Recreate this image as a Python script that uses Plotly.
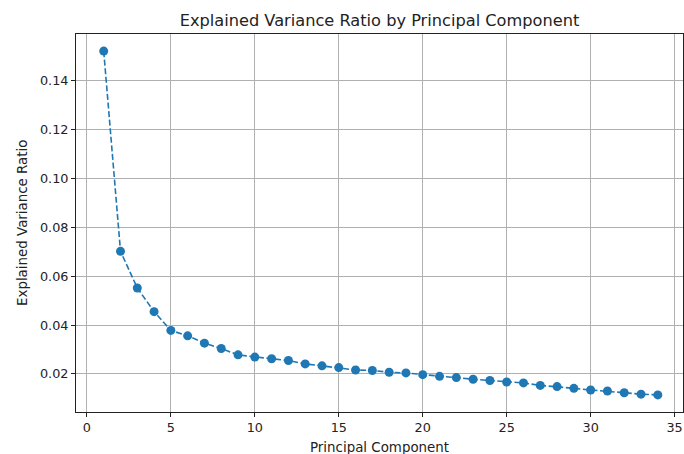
import plotly.graph_objects as go

components = list(range(1, 35))
explained_variance_ratio = [
    0.1522, 0.0702, 0.0552, 0.0455, 0.0378, 0.0356, 0.0326, 0.0304, 0.0278, 0.0269,
    0.0262, 0.0255, 0.0241, 0.0233, 0.0226, 0.0216, 0.0214, 0.0207, 0.0204, 0.0197,
    0.0190, 0.0185, 0.0178, 0.0173, 0.0167, 0.0163, 0.0153, 0.0148, 0.0141, 0.0134,
    0.0130, 0.0123, 0.0117, 0.0114,
]
x_ticks = [0, 5, 10, 15, 20, 25, 30, 35]
y_ticks = [0.02, 0.04, 0.06, 0.08, 0.10, 0.12, 0.14]
y_tick_labels = ["0.02", "0.04", "0.06", "0.08", "0.10", "0.12", "0.14"]

FONT = "DejaVu Sans"
BLUE = "#1f77b4"
W, H = 684, 454
L, R, T, B = 76, 1, 34, 42

fig = go.Figure()
fig.add_trace(go.Scatter(
    x=components, y=explained_variance_ratio,
    mode="lines+markers",
    line=dict(color=BLUE, width=1.6, dash="6px,2.6px"),
    marker=dict(color=BLUE, size=9, symbol="circle"),
    showlegend=False,
))

axis_common = dict(
    showgrid=True, gridcolor="#b0b0b0", gridwidth=0.8,
    showline=True, linecolor="#222222", linewidth=1, mirror=True,
    ticks="outside", ticklen=4, tickwidth=1, tickcolor="#222222",
    zeroline=False, automargin=False,
    tickfont=dict(family=FONT, size=12.8, color="#222222"),
)

fig.update_layout(
    width=W, height=H,
    margin=dict(l=L, r=R, t=T, b=B, autoexpand=False),
    paper_bgcolor="white", plot_bgcolor="white",
    font=dict(family=FONT, color="#222222"),
    title=dict(
        text="Explained Variance Ratio by Principal Component",
        font=dict(family=FONT, size=16.2, color="#222222"),
        x=(L + W - R) / 2 / W, xanchor="center",
        y=1 - 20 / H, yanchor="middle", yref="container",
        automargin=False,
    ),
    xaxis=dict(
        axis_common,
        range=[-0.65, 35.5],
        tickmode="array", tickvals=x_ticks,
    ),
    yaxis=dict(
        axis_common,
        range=[0.0044, 0.1592],
        tickmode="array", tickvals=y_ticks, ticktext=y_tick_labels,
    ),
    annotations=[
        dict(text="Principal Component", xref="paper", yref="paper",
             x=0.5, y=-(447 - (H - B)) / (H - T - B), xanchor="center", yanchor="middle",
             showarrow=False, font=dict(family=FONT, size=13.4, color="#222222")),
        dict(text="Explained Variance Ratio", xref="paper", yref="paper",
             x=-(L - 22) / (W - L - R), y=0.5, xanchor="center", yanchor="middle",
             textangle=-90, showarrow=False, font=dict(family=FONT, size=13.4, color="#222222")),
    ],
)

fig.write_html(
    "out.html",
    config={"displayModeBar": False},
    post_script="document.body.style.margin='0';document.body.style.overflow='hidden';",
)
